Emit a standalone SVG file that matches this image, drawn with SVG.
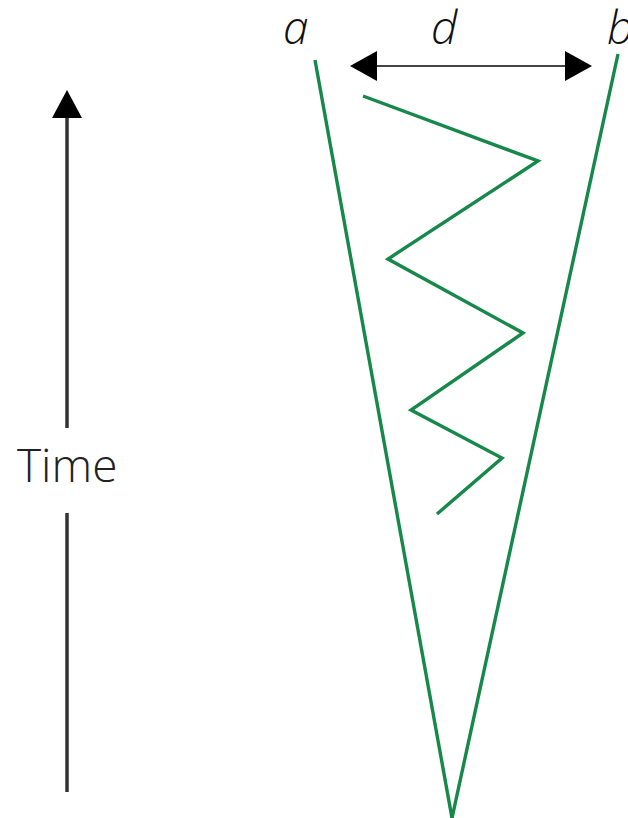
<svg xmlns="http://www.w3.org/2000/svg" width="628" height="818" viewBox="0 0 628 818">
<style>
.g{fill:none;stroke:#16894a;stroke-width:3.4;stroke-linejoin:miter}
.lbl{font-family:"Open Sans","Liberation Sans",sans-serif;font-style:italic;font-weight:300;font-size:46px;fill:#111}
.time{font-family:"Open Sans","Liberation Sans",sans-serif;font-weight:300;font-size:46px;fill:#222}
</style>
<rect width="628" height="818" fill="#fff"/>
<g id="cone">
<line class="g" x1="315" y1="60" x2="452" y2="818"/>
<line class="g" x1="618" y1="54" x2="452" y2="818"/>
</g>
<g id="zigzag">
<polyline class="g" points="363,96 538,161 388,259 523,333 411,410 502,458 437,514"/>
</g>
<g id="connectors">
<line x1="370" y1="66" x2="572" y2="66" stroke="#444" stroke-width="1.8"/>
<polygon points="350,66 377,51 377,81" fill="#000"/>
<polygon points="592,66 565,51 565,81" fill="#000"/>
<line x1="67" y1="115" x2="67" y2="428" stroke="#333" stroke-width="3.5"/>
<line x1="67" y1="513" x2="67" y2="792" stroke="#333" stroke-width="3.5"/>
<polygon points="67,90 52,118 82,118" fill="#000"/>
</g>
<g id="labels">
<text class="lbl" x="283" y="44">a</text>
<text class="lbl" x="431" y="44">d</text>
<text class="lbl" x="607" y="44">b</text>
<text class="time" x="17" y="482">Time</text>
</g>
</svg>
